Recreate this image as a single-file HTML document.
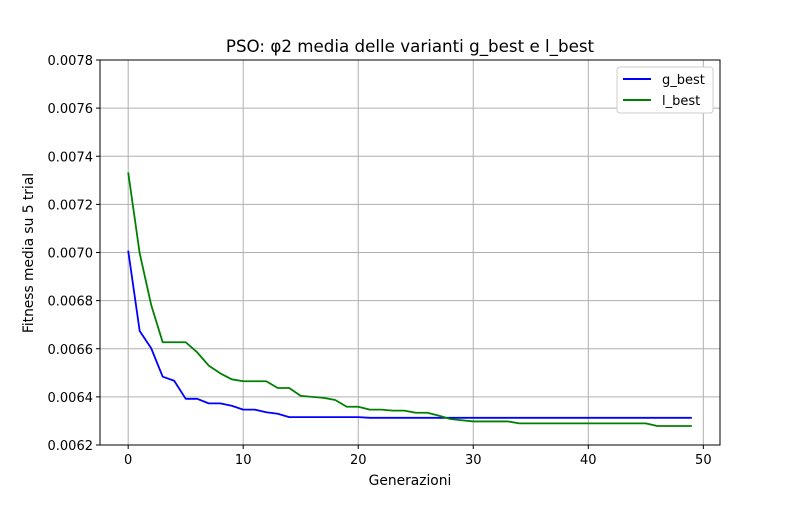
<!DOCTYPE html>
<html><head><meta charset="utf-8"><style>
body{margin:0;background:#fff;font-family:"Liberation Sans","DejaVu Sans",sans-serif;}
svg text{font-family:"DejaVu Sans","Liberation Sans",sans-serif;}
</style></head><body>
<svg id="chart" width="800" height="500">
<rect width="800" height="500" fill="#fff"/>
<g id="grid"></g><g id="ticks"></g><g id="lines"></g>
<rect x="100" y="60" width="620" height="385" fill="none" stroke="#000" stroke-width="1"/>
<text x="410" y="52" text-anchor="middle" font-size="16.7">PSO: φ2 media delle varianti g_best e l_best</text>
<text x="410" y="485" text-anchor="middle" font-size="13.8">Generazioni</text>
<text transform="translate(33,253) rotate(-90)" text-anchor="middle" font-size="13.8">Fitness media su 5 trial</text>
<g>
<rect x="617" y="67" width="96" height="46" rx="3" fill="#fff" stroke="#ccc"/>
<line x1="623" y1="79" x2="651" y2="79" stroke="blue" stroke-width="2"/>
<text x="662" y="84" font-size="13">g_best</text>
<line x1="623" y1="100" x2="651" y2="100" stroke="green" stroke-width="2"/>
<text x="662" y="105" font-size="13">l_best</text>
</g>
</svg>
<script>
const xTicks=[0,10,20,30,40,50];
const yTicks=[0.0062,0.0064,0.0066,0.0068,0.0070,0.0072,0.0074,0.0076,0.0078];
const gBest=[0.007008,0.006674,0.006602,0.006484,0.006467,0.006392,0.006392,0.006373,0.006373,0.006363,0.006347,0.006347,0.006336,0.00633,0.006316,0.006316,0.006316,0.006316,0.006316,0.006316,0.006316,0.006313,0.006313,0.006313,0.006313,0.006313,0.006313,0.006313,0.006313,0.006313,0.006313,0.006313,0.006313,0.006313,0.006313,0.006313,0.006313,0.006313,0.006313,0.006313,0.006313,0.006313,0.006313,0.006313,0.006313,0.006313,0.006313,0.006313,0.006313,0.006313];
const lBest=[0.007333,0.006997,0.006782,0.006627,0.006627,0.006627,0.006585,0.00653,0.006498,0.006473,0.006465,0.006465,0.006465,0.006437,0.006437,0.006404,0.0064,0.006396,0.006387,0.006359,0.006359,0.006347,0.006347,0.006343,0.006343,0.006334,0.006334,0.006322,0.006308,0.006303,0.006298,0.006298,0.006298,0.006298,0.00629,0.00629,0.00629,0.00629,0.00629,0.00629,0.00629,0.00629,0.00629,0.00629,0.00629,0.00629,0.006279,0.006279,0.006279,0.006279];
const X0=100,X1=720,Y0=60,Y1=445,xmin=-2.45,xmax=51.45,ymin=0.0062,ymax=0.0078;
const sx=v=>X0+(v-xmin)/(xmax-xmin)*(X1-X0);
const sy=v=>Y1-(v-ymin)/(ymax-ymin)*(Y1-Y0);
const NS='http://www.w3.org/2000/svg';
function mk(tag,attrs,parent){const e=document.createElementNS(NS,tag);for(const k in attrs)e.setAttribute(k,attrs[k]);parent.appendChild(e);return e;}
const grid=document.getElementById('grid'),ticks=document.getElementById('ticks'),lines=document.getElementById('lines');
xTicks.forEach(t=>{const x=sx(t);
 const g=mk('line',{x1:x,x2:x,y1:Y0,y2:Y1,stroke:'#b0b0b0','stroke-width':1},grid);
 
 
 mk('line',{x1:x,x2:x,y1:Y1,y2:Y1+4,stroke:'#000'},ticks);
 const tx=mk('text',{x:x,y:Y1+19,'text-anchor':'middle','font-size':13},ticks);tx.textContent=t;
 
 
});
yTicks.forEach(t=>{const y=sy(t);
 const g=mk('line',{x1:X0,x2:X1,y1:y,y2:y,stroke:'#b0b0b0','stroke-width':1},grid);
 
 
 mk('line',{x1:X0-4,x2:X0,y1:y,y2:y,stroke:'#000'},ticks);
 const tx=mk('text',{x:X0-7,y:y+5,'text-anchor':'end','font-size':13},ticks);tx.textContent=t.toFixed(4);
 
 
});
function series(arr,color,name){
 const p=mk('polyline',{points:arr.map((v,i)=>sx(i)+','+sy(v)).join(' '),fill:'none',stroke:color,'stroke-width':1.8,'stroke-linejoin':'round'},lines);
 
 
}
series(gBest,'blue','g-best-line');
series(lBest,'green','l-best-line');
</script>
</body></html>
